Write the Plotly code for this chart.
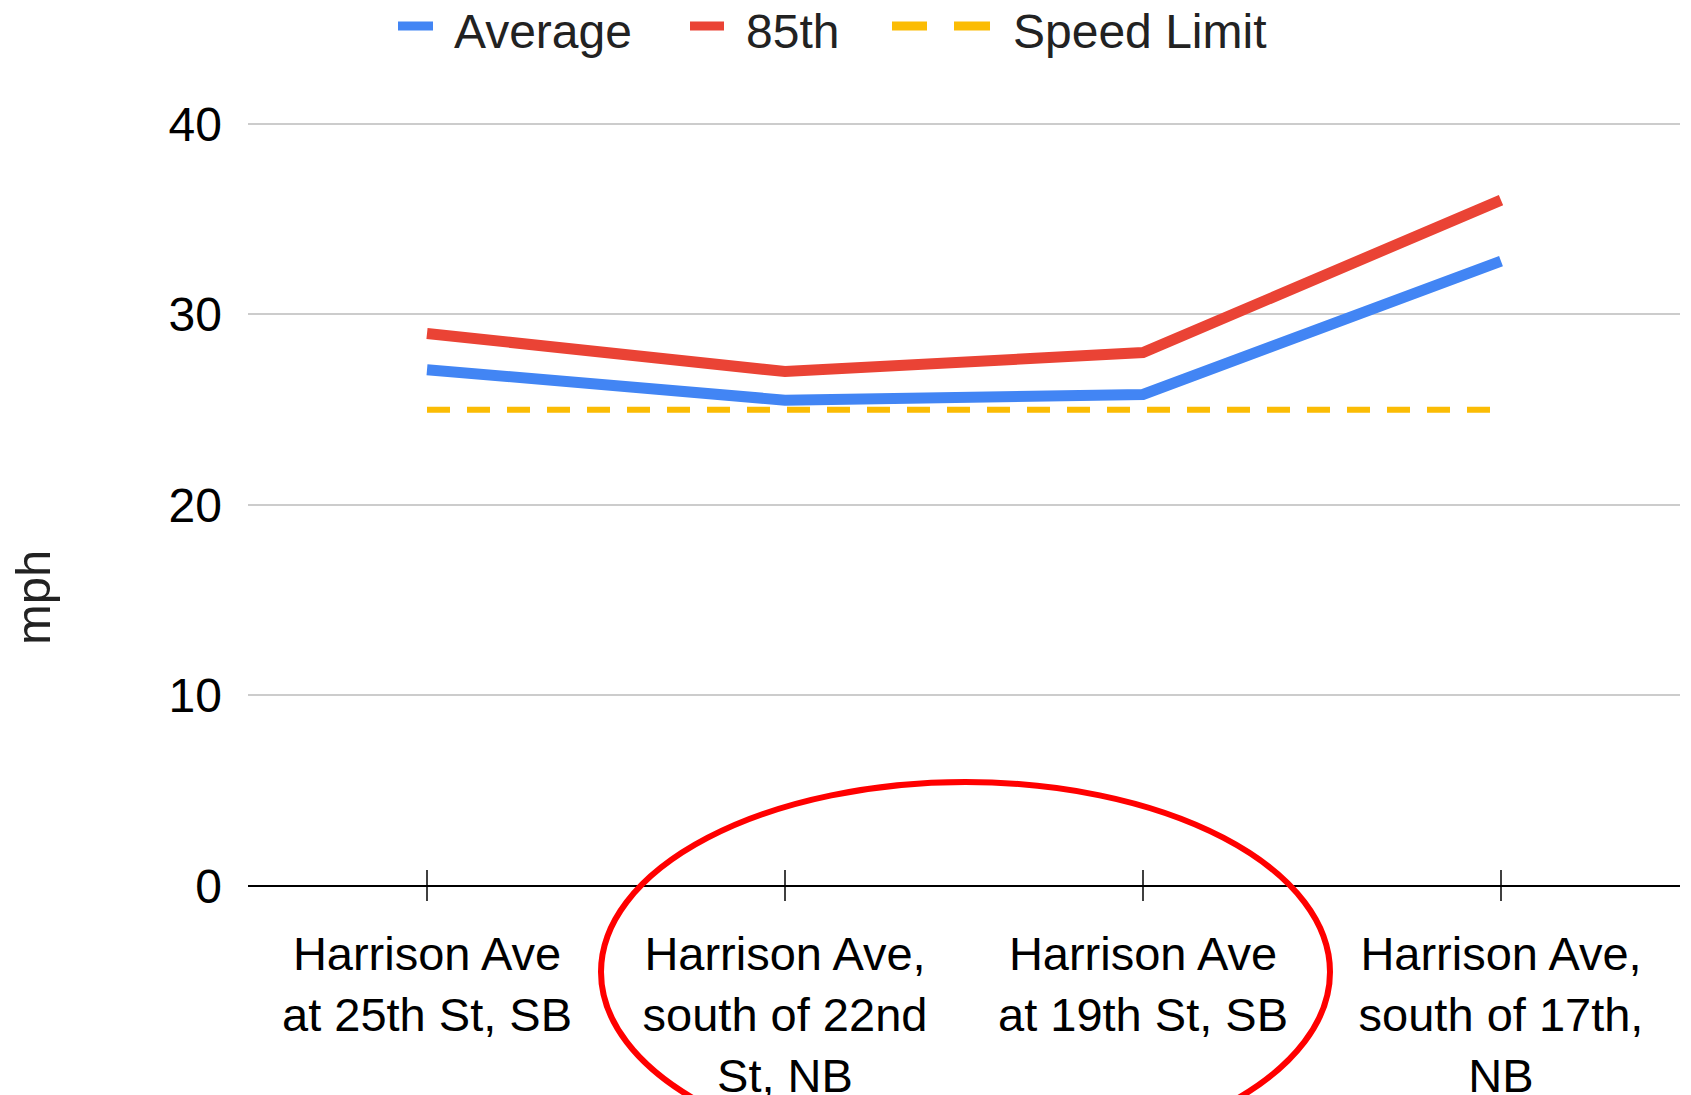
import plotly.graph_objects as go

categories = [
    "Harrison Ave<br>at 25th St, SB",
    "Harrison Ave,<br>south of 22nd<br>St, NB",
    "Harrison Ave<br>at 19th St, SB",
    "Harrison Ave,<br>south of 17th,<br>NB",
]
average = [27.1, 25.5, 25.8, 32.8]
pct85 = [29.0, 27.0, 28.0, 36.0]
speed_limit = [25, 25, 25, 25]
y_ticks = [0, 10, 20, 30, 40]
series_names = ["Average", "85th", "Speed Limit"]
series_colors = ["#4285F4", "#EA4335", "#FBBC04"]

OFF = 8  # default page body margin in the exported html
W, H = 1691 - OFF, 1095 - OFF
L, R, T, B = 240, 11, 114, 209
PW, PH = W - L - R, H - T - B
FONT = "Liberation Sans, Arial, sans-serif"


def px_x(px):
    # page pixel -> paper fraction
    return (px - OFF - L) / PW


def px_y(py):
    return (H - B - (py - OFF)) / PH


fig = go.Figure()
fig.add_trace(go.Scatter(x=categories, y=average, name=series_names[0], mode="lines",
                         line=dict(color=series_colors[0], width=11), showlegend=False))
fig.add_trace(go.Scatter(x=categories, y=pct85, name=series_names[1], mode="lines",
                         line=dict(color=series_colors[1], width=11), showlegend=False))
fig.add_trace(go.Scatter(x=categories, y=speed_limit, name=series_names[2], mode="lines",
                         line=dict(color=series_colors[2], width=6, dash="23px,17px"),
                         showlegend=False))

shapes = []
# x-axis tick marks crossing the axis line
for c in categories:
    shapes.append(dict(type="line", xref="x", yref="paper", x0=c, x1=c,
                       ysizemode="pixel", yanchor=0, y0=-15, y1=16,
                       line=dict(color="#000000", width=1.5)))
# red ellipse highlight
shapes.append(dict(type="circle", xref="paper", yref="paper",
                   x0=px_x(601), x1=px_x(1330), y0=px_y(1162), y1=px_y(782),
                   line=dict(color="#FF0000", width=6)))

# custom legend (symbols + labels)
leg_y = 26
legend_symbols = [
    (0, [(398, 433)], 9),
    (1, [(690, 724)], 9),
    (2, [(892, 927), (954, 990)], 9),
]
for idx, segs, lw in legend_symbols:
    for a, b in segs:
        shapes.append(dict(type="line", xref="paper", yref="paper",
                           x0=px_x(a), x1=px_x(b), y0=px_y(leg_y), y1=px_y(leg_y),
                           line=dict(color=series_colors[idx], width=lw)))
legend_text_x = [452, 744, 1011]
annotations = []
for name, tx in zip(series_names, legend_text_x):
    annotations.append(dict(text=name, xref="paper", yref="paper", x=px_x(tx), y=px_y(31),
                            xanchor="left", yanchor="middle", showarrow=False,
                            font=dict(size=48, color="#222222", family=FONT)))
annotations.append(dict(text="mph", xref="paper", yref="paper",
                        x=px_x(33), y=px_y(598), xanchor="center", yanchor="middle",
                        textangle=-90, showarrow=False,
                        font=dict(size=49, color="#222222", family=FONT)))

fig.update_layout(
    width=W, height=H,
    margin=dict(l=L, r=R, t=T, b=B, pad=0),
    paper_bgcolor="white", plot_bgcolor="white",
    font=dict(family=FONT, size=47, color="#000000"),
    showlegend=False,
    shapes=shapes,
    annotations=annotations,
)
fig.update_xaxes(type="category", range=[-0.5, 3.5], showgrid=False, ticks="",
                 showline=False, zeroline=False, ticklabelstandoff=36, automargin=False,
                 tickfont=dict(size=47, color="#000000"))
fig.update_yaxes(range=[0, 40.1], tickvals=y_ticks, showgrid=True, gridcolor="#cccccc",
                 gridwidth=1.5, zeroline=True, zerolinecolor="#000000", zerolinewidth=2,
                 ticks="", ticklabelstandoff=25, showline=False, automargin=False,
                 tickfont=dict(size=48, color="#000000"))

fig.write_html("out.html")
